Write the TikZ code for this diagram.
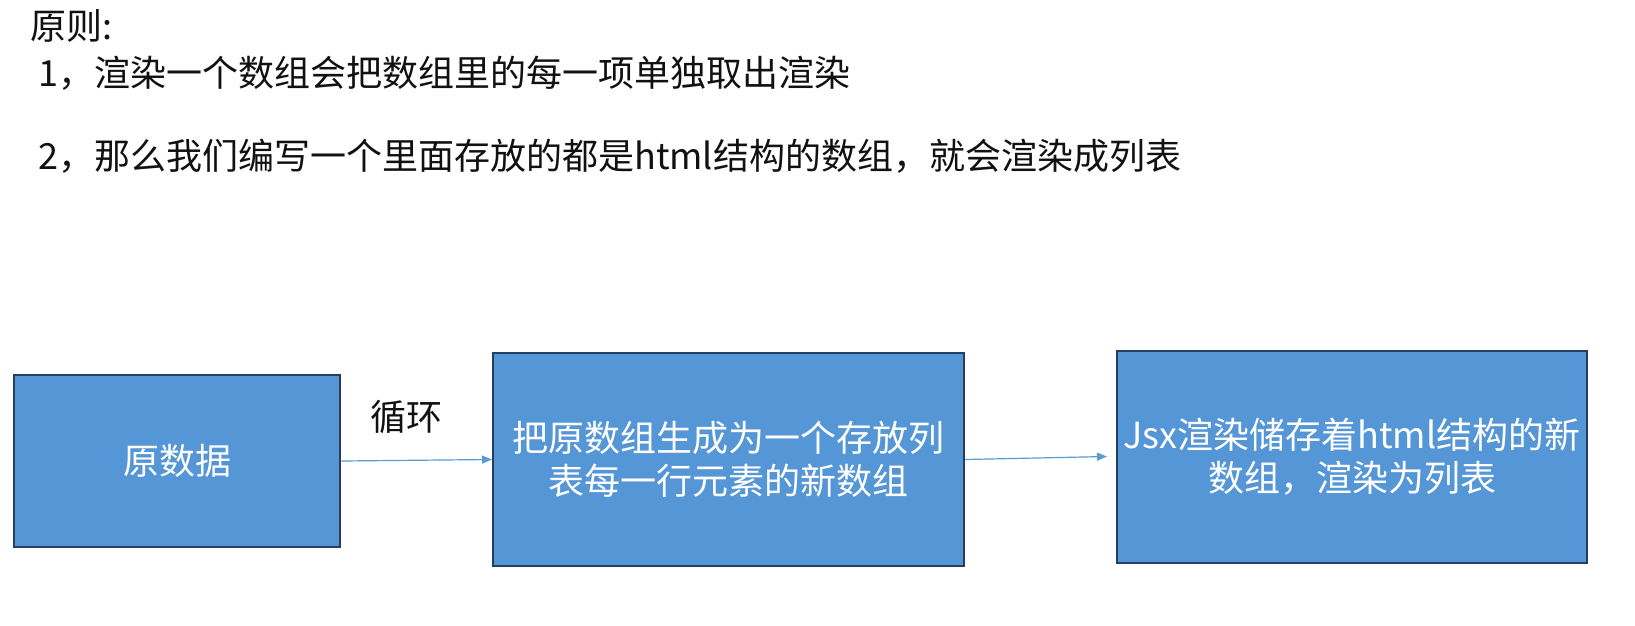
\documentclass[tikz,border=0pt]{standalone}
\usepackage{fontspec}
\setmainfont{Noto Sans CJK SC}
\usetikzlibrary{arrows.meta}
\definecolor{boxfill}{HTML}{5596D6}
\definecolor{boxline}{HTML}{243F60}
\definecolor{arrowc}{HTML}{5B9BD5}
\definecolor{txt}{HTML}{111111}
\tikzset{
  box/.style={draw=boxline, line width=2pt, fill=boxfill, text=white, align=center,
    font=\fontsize{36}{43}\selectfont, inner sep=0pt},
  toptext/.style={anchor=base west, inner sep=0pt, text=txt, font=\fontsize{36}{43}\selectfont},
  arr/.style={draw=arrowc, line width=1.2pt, -{Triangle[length=10pt,width=8pt]}},
}
\begin{document}
\begin{tikzpicture}[x=1pt,y=-1pt]
\useasboundingbox (0,0) rectangle (1635,625);
\fill[white] (0,0) rectangle (1635,625);
\node[toptext] (title) at (30,39) {原则:};
\node[toptext] (l1) at (38,86) {1，渲染一个数组会把数组里的每一项单独取出渲染};
\node[toptext] (l2) at (38,169) {2，那么我们编写一个里面存放的都是html结构的数组，就会渲染成列表};

\node[box, minimum width=326pt, minimum height=172pt] (b1) at (177.3,461) {原数据};
\node[box, minimum width=471pt, minimum height=213pt] (b2) at (728.5,459.5) {把原数组生成为一个存放列\\表每一行元素的新数组};
\node[box, minimum width=470pt, minimum height=212pt] (b3) at (1352,456.5) {Jsx渲染储存着html结构的新\\数组，渲染为列表};

\draw[arr] (b1.east) -- (b2.west);
\draw[arr] (b2.east) -- ([xshift=-9pt]b3.west);
\node[anchor=center, inner sep=0pt, text=txt, font=\fontsize{36}{43}\selectfont] (loop) at (406,417) {循环};
\end{tikzpicture}
\end{document}
